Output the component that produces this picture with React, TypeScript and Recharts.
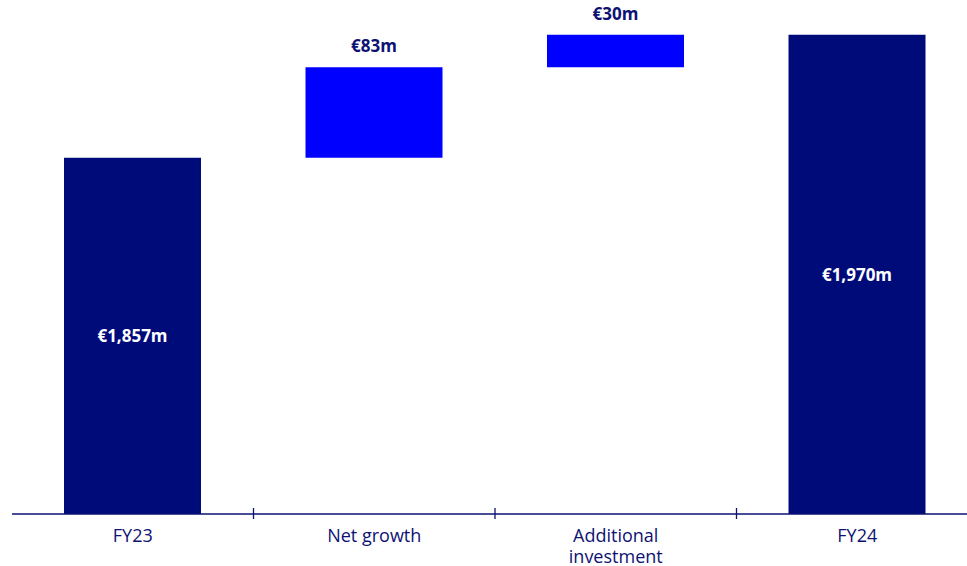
import { BarChart, Bar, XAxis, YAxis, Cell, LabelList, Text } from 'recharts';

const categories = ['FY23', 'Net growth', 'Additional investment', 'FY24'];
const barStarts = [1530, 1857, 1940, 1530];
const barEnds = [1857, 1940, 1970, 1970];
const labelValues = [1857, 83, 30, 1970];
const isTotal = [true, false, false, true];

// axis floor of the truncated value axis
const Y_DOMAIN: [number, number] = [1530, 2000];

const NAVY = '#000b7a';
const BLUE = '#0000ff';
const TEXT_NAVY = '#0d1273';

const CHART_W = 980;
const CHART_H = 566;
const MARGIN = { top: 2, right: 2, bottom: 0, left: 12 };
const AXIS_H = 52;
const BAND = (CHART_W - MARGIN.left - MARGIN.right) / categories.length;
const PLOT_BOTTOM = CHART_H - MARGIN.bottom - AXIS_H;

const data = categories.map((name, i) => ({
  name,
  range: [barStarts[i], barEnds[i]],
  label: `€${labelValues[i].toLocaleString('en-US')}m`,
  total: isTotal[i],
}));

const CategoryTick = (props: any) => {
  const { x, payload, index } = props;
  return (
    <g>
      {index < categories.length - 1 && (
        <line
          x1={x + BAND / 2}
          x2={x + BAND / 2}
          y1={PLOT_BOTTOM - 6}
          y2={PLOT_BOTTOM + 5}
          stroke={TEXT_NAVY}
          strokeWidth={1.3}
        />
      )}
      <Text
        x={x}
        y={PLOT_BOTTOM + 15}
        width={130}
        textAnchor="middle"
        verticalAnchor="start"
        lineHeight={21}
        fill={TEXT_NAVY}
        fontSize={18}
        fontFamily="'Open Sans', sans-serif"
      >
        {payload.value}
      </Text>
    </g>
  );
};

const ValueLabel = (props: any) => {
  const { x, y, width, height, index } = props;
  const d = data[index];
  const cx = x + width / 2;
  if (d.total) {
    return (
      <text
        x={cx}
        y={y + height / 2}
        textAnchor="middle"
        dominantBaseline="central"
        fill="#ffffff"
        fontSize={17}
        fontWeight={700}
        fontFamily="'Open Sans', sans-serif"
      >
        {d.label}
      </text>
    );
  }
  return (
    <text
      x={cx}
      y={y - 15}
      textAnchor="middle"
      fill={TEXT_NAVY}
      fontSize={17}
      fontWeight={700}
      fontFamily="'Open Sans', sans-serif"
    >
      {d.label}
    </text>
  );
};

export default function App() {
  return (
    <div
      style={{
        position: 'absolute',
        left: 0,
        top: 0,
        width: 967,
        height: 566,
        overflow: 'hidden',
        background: '#ffffff',
      }}
    >
      <BarChart width={CHART_W} height={CHART_H} data={data} margin={MARGIN}>
        <XAxis
          dataKey="name"
          height={AXIS_H}
          axisLine={{ stroke: TEXT_NAVY, strokeWidth: 1.3 }}
          tickLine={false}
          interval={0}
          tick={<CategoryTick />}
        />
        <YAxis hide domain={Y_DOMAIN} allowDataOverflow type="number" />
        <Bar dataKey="range" barSize={137} isAnimationActive={false}>
          {data.map((d, i) => (
            <Cell key={i} fill={d.total ? NAVY : BLUE} />
          ))}
          <LabelList dataKey="label" content={<ValueLabel />} />
        </Bar>
      </BarChart>
    </div>
  );
}
